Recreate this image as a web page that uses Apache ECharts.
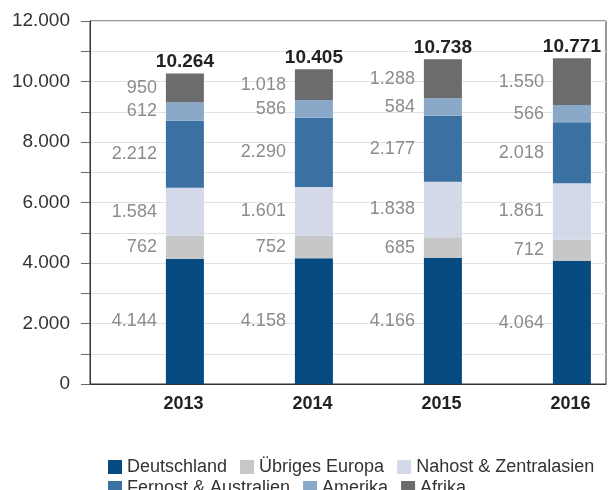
<!DOCTYPE html>
<html>
<head>
<meta charset="utf-8">
<script src="https://cdn.jsdelivr.net/npm/echarts@6/dist/echarts.min.js"></script>
<style>
html, body { margin: 0; padding: 0; background: #fff; }
#chart { width: 608px; height: 490px; }
</style>
</head>
<body>
<div id="chart"></div>
<script>
var years = ['2013', '2014', '2015', '2016'];
var deutschland = [4144, 4158, 4166, 4064];
var europa = [762, 752, 685, 712];
var nahost = [1584, 1601, 1838, 1861];
var fernost = [2212, 2290, 2177, 2018];
var amerika = [612, 586, 584, 566];
var afrika = [950, 1018, 1288, 1550];
var totals = [10264, 10405, 10738, 10771];

var fmt = function(v) {
	return String(v).replace(/\B(?=(\d{3})+(?!\d))/g, '.');
};
var font = '"Liberation Sans", Arial, sans-serif';

var valueLabel = {
	show: true,
	position: 'left',
	distance: 9,
	color: '#8c8c8c',
	fontSize: 18,
	fontFamily: font,
	formatter: function(p) { return fmt(p.value); }
};

var part = function(name, data, color) {
	return {
		name: name,
		type: 'bar',
		stack: 'a',
		barWidth: 38,
		barGap: '60%',
		data: data,
		itemStyle: { color: color },
		label: valueLabel
	};
};

var chart = echarts.init(document.getElementById('chart'));
chart.setOption({
	animation: false,
	grid: {
		left: 90, right: 2, top: 21, bottom: 106,
		show: true, borderColor: '#333', borderWidth: 1
	},
	legend: [{
		data: ['Deutschland', 'Übriges Europa', 'Nahost & Zentralasien'],
		left: 103, top: 453,
		itemWidth: 14, itemHeight: 14, itemGap: 13,
		icon: 'rect',
		textStyle: { color: '#333', fontSize: 18, fontFamily: font }
	}, {
		data: ['Fernost & Australien', 'Amerika', 'Afrika'],
		left: 103, top: 474,
		itemWidth: 14, itemHeight: 14, itemGap: 13,
		icon: 'rect',
		textStyle: { color: '#333', fontSize: 18, fontFamily: font }
	}],
	xAxis: {
		type: 'category',
		data: years,
		axisLine: { lineStyle: { color: '#333' } },
		axisTick: { length: 10, lineStyle: { color: '#333' } },
		axisLabel: {
			color: '#222', fontSize: 18, fontWeight: 'bold', fontFamily: font,
			padding: [0, 0, 0, 58], margin: 11
		}
	},
	yAxis: {
		type: 'value',
		min: 0, max: 12000, interval: 1000,
		axisLine: { show: true, lineStyle: { color: '#333' } },
		axisTick: { show: true, length: 9, lineStyle: { color: '#666' } },
		splitLine: { lineStyle: { color: '#e2e2e2' } },
		axisLabel: {
			color: '#333', fontSize: 19, fontFamily: font, margin: 20,
			formatter: function(v) { return v % 2000 === 0 ? fmt(v) : ''; }
		}
	},
	series: [
		{ name: 'spacer', type: 'bar', stack: 'd', barWidth: 38, data: [0, 0, 0, 0], silent: true },
		part('Deutschland', deutschland, '#054a80'),
		part('Übriges Europa', europa, '#c6c7c8'),
		part('Nahost & Zentralasien', nahost, '#d3d9e8'),
		part('Fernost & Australien', fernost, '#3b70a3'),
		part('Amerika', amerika, '#8aa8c8'),
		part('Afrika', afrika, '#6b6c6e'),
		{
			name: 'Gesamt', type: 'bar', stack: 'a', barWidth: 38,
			data: [0, 0, 0, 0], silent: true,
			label: {
				show: true, position: 'top', distance: 2,
				color: '#222', fontSize: 19, fontWeight: 'bold', fontFamily: font,
				formatter: function(p) { return fmt(totals[p.dataIndex]); }
			}
		}
	]
});
</script>
</body>
</html>
